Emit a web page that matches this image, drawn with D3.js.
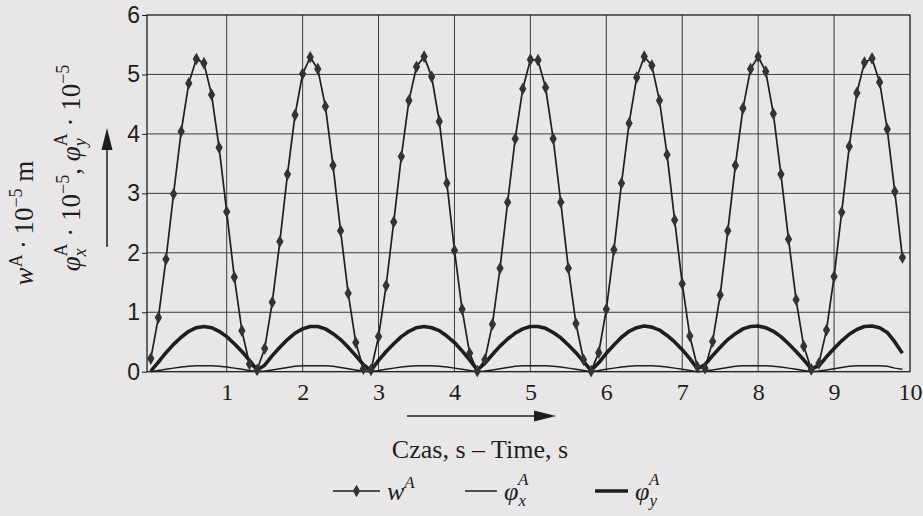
<!DOCTYPE html>
<html>
<head>
<meta charset="utf-8">
<title>Przemieszczenie i obroty punktu A w czasie</title>
<script src="https://d3js.org/d3.v7.min.js"></script>
<style>
body { margin: 0; background: #e8e6e7; }
svg { display: block; }
.grid line { stroke: #3c3c3c; stroke-width: 1; }
.yaxis text { font-family: "Liberation Sans", Arial, sans-serif; font-size: 23px; fill: #1e1e1e; }
.xaxis text { font-family: "Liberation Serif", "Times New Roman", serif; font-size: 24px; fill: #1e1e1e; }
.lab { font-family: "Liberation Serif", "Times New Roman", serif; font-size: 26px; fill: #1e1e1e; }
.ylab { font-family: "Liberation Serif", "Times New Roman", serif; font-size: 27px; fill: #1e1e1e; }
</style>
</head>
<body>
<svg width="923" height="516"></svg>
<script>

// sample times, every 0.1 s
var time = d3.range(100).map(function(i) { return i / 10; });

// w^A * 10^-5 m
var wA = [
  0.22, 0.91, 1.89, 2.99, 4.04, 4.85, 5.26, 5.19, 4.66, 3.77,
  2.69, 1.59, 0.69, 0.13, 0.03, 0.39, 1.17, 2.19, 3.32, 4.32,
  5.01, 5.29, 5.09, 4.46, 3.47, 2.37, 1.32, 0.49, 0.05, 0.03,
  0.59, 1.45, 2.52, 3.62, 4.56, 5.13, 5.30, 4.96, 4.21, 3.17,
  2.04, 1.05, 0.31, 0.01, 0.20, 0.80, 1.74, 2.85, 3.92, 4.76,
  5.25, 5.24, 4.78, 3.92, 2.85, 1.74, 0.81, 0.20, 0.01, 0.32,
  1.05, 2.05, 3.17, 4.18, 4.95, 5.30, 5.15, 4.56, 3.65, 2.55,
  1.48, 0.60, 0.08, 0.06, 0.51, 1.29, 2.37, 3.47, 4.43, 5.09,
  5.30, 5.05, 4.34, 3.32, 2.23, 1.21, 0.43, 0.04, 0.14, 0.70,
  1.60, 2.68, 3.79, 4.69, 5.20, 5.27, 4.87, 4.08, 3.03, 1.92
];

// phi_x^A * 10^-5
var phiX = [
  0.00, 0.02, 0.04, 0.06, 0.08, 0.09, 0.10, 0.10, 0.10, 0.09,
  0.08, 0.06, 0.04, 0.02, 0.00, 0.01, 0.03, 0.05, 0.07, 0.09,
  0.10, 0.10, 0.10, 0.10, 0.09, 0.07, 0.05, 0.03, 0.01, 0.00,
  0.02, 0.04, 0.06, 0.08, 0.09, 0.10, 0.10, 0.10, 0.09, 0.08,
  0.06, 0.04, 0.02, 0.00, 0.01, 0.03, 0.05, 0.07, 0.09, 0.10,
  0.10, 0.10, 0.10, 0.09, 0.08, 0.06, 0.04, 0.02, 0.00, 0.02,
  0.04, 0.06, 0.08, 0.09, 0.10, 0.10, 0.10, 0.09, 0.08, 0.06,
  0.04, 0.02, 0.00, 0.01, 0.03, 0.05, 0.07, 0.09, 0.10, 0.10,
  0.10, 0.10, 0.09, 0.08, 0.06, 0.04, 0.02, 0.00, 0.01, 0.03,
  0.05, 0.07, 0.09, 0.10, 0.10, 0.10, 0.10, 0.09, 0.06, 0.04
];

// phi_y^A * 10^-5
var phiY = [
  0.01, 0.16, 0.32, 0.46, 0.58, 0.68, 0.74, 0.76, 0.74, 0.68,
  0.59, 0.47, 0.34, 0.19, 0.03, 0.11, 0.27, 0.41, 0.54, 0.65,
  0.72, 0.76, 0.76, 0.72, 0.64, 0.54, 0.41, 0.27, 0.12, 0.02,
  0.19, 0.34, 0.47, 0.59, 0.68, 0.74, 0.76, 0.74, 0.69, 0.60,
  0.49, 0.35, 0.20, 0.03, 0.14, 0.29, 0.43, 0.55, 0.65, 0.72,
  0.76, 0.76, 0.73, 0.66, 0.57, 0.45, 0.32, 0.17, 0.02, 0.15,
  0.31, 0.45, 0.58, 0.68, 0.74, 0.77, 0.75, 0.70, 0.61, 0.50,
  0.37, 0.22, 0.05, 0.12, 0.27, 0.41, 0.54, 0.64, 0.72, 0.76,
  0.77, 0.74, 0.68, 0.59, 0.47, 0.34, 0.20, 0.05, 0.10, 0.25,
  0.39, 0.52, 0.63, 0.71, 0.76, 0.77, 0.74, 0.66, 0.50, 0.31
];

var xTicks = [1, 2, 3, 4, 5, 6, 7, 8, 9, 10];
var yTicks = [0, 1, 2, 3, 4, 5, 6];

var svg = d3.select("svg");

var x = d3.scaleLinear().domain([-0.05, 10]).range([147, 910]);
var y = d3.scaleLinear().domain([0, 6]).range([371.7, 15]);

var ink = "#1e1e1e";

// grid
var grid = svg.append("g").attr("class", "grid");
grid.selectAll(".h")
  .data(yTicks.slice(1, -1))
  .enter().append("line")
    .attr("x1", x.range()[0]).attr("x2", x.range()[1])
    .attr("y1", function(d) { return y(d); })
    .attr("y2", function(d) { return y(d); });
grid.selectAll(".v")
  .data(xTicks.slice(0, -1))
  .enter().append("line")
    .attr("x1", function(d) { return x(d); })
    .attr("x2", function(d) { return x(d); })
    .attr("y1", y(0)).attr("y2", y(6));

// frame
svg.append("rect")
    .attr("x", x.range()[0]).attr("y", y(6))
    .attr("width", x.range()[1] - x.range()[0])
    .attr("height", y(0) - y(6))
    .attr("fill", "none")
    .attr("stroke", ink)
    .attr("stroke-width", 1.3);

// axes
svg.append("g")
    .attr("class", "yaxis")
    .attr("transform", "translate(" + x.range()[0] + ",0)")
    .call(d3.axisLeft(y).tickValues(yTicks).tickSize(5).tickPadding(2).tickFormat(d3.format("d")))
    .call(function(g) { g.select(".domain").remove(); })
    .call(function(g) { g.selectAll("line").attr("stroke", ink); });

svg.append("g")
    .attr("class", "xaxis")
    .attr("transform", "translate(0," + y(0) + ")")
    .call(d3.axisBottom(x).tickValues(xTicks).tickSize(0).tickPadding(11).tickFormat(d3.format("d")))
    .call(function(g) { g.select(".domain").remove(); });

// series
var pts = time.map(function(t, i) { return { t: t, w: wA[i], px: phiX[i], py: phiY[i] }; });

function lineFor(key) {
  return d3.line()
    .x(function(d) { return x(d.t); })
    .y(function(d) { return y(d[key]); });
}

svg.append("path")
    .datum(pts)
    .attr("d", lineFor("px"))
    .attr("fill", "none")
    .attr("stroke", ink)
    .attr("stroke-width", 1.5);

svg.append("path")
    .datum(pts)
    .attr("d", lineFor("py"))
    .attr("fill", "none")
    .attr("stroke", ink)
    .attr("stroke-width", 3.6)
    .attr("stroke-linejoin", "round");

svg.append("path")
    .datum(pts)
    .attr("d", lineFor("w"))
    .attr("fill", "none")
    .attr("stroke", ink)
    .attr("stroke-width", 1.7);

var diamond = d3.symbol().type(d3.symbolDiamond).size(46);
svg.append("g")
  .selectAll("path")
  .data(pts)
  .enter().append("path")
    .attr("d", diamond)
    .attr("transform", function(d) { return "translate(" + x(d.t) + "," + y(d.w) + ")"; })
    .attr("fill", "#333");

// y axis title (two rotated lines) and arrow
var thin = "\u2009";
var yl1 = svg.append("text")
    .attr("class", "ylab")
    .attr("text-anchor", "middle")
    .attr("transform", "translate(33,223) rotate(-90)");
yl1.append("tspan").attr("font-style", "italic").text("w");
yl1.append("tspan").attr("font-size", 18).attr("dy", -11).text("A");
yl1.append("tspan").attr("dy", 11).text(thin + "·" + thin + "10");
yl1.append("tspan").attr("font-size", 18).attr("dy", -11).text("−5");
yl1.append("tspan").attr("dy", 11).text(" m");

var yl2 = svg.append("text")
    .attr("class", "ylab")
    .attr("text-anchor", "middle")
    .attr("transform", "translate(80,168) rotate(-90)");
function phiPart(sel, sub) {
  sel.append("tspan").attr("font-style", "italic").text("φ");
  sel.append("tspan").attr("font-style", "italic").attr("font-size", 18).attr("dy", 6).text(sub);
  sel.append("tspan").attr("font-size", 18).attr("dx", -8).attr("dy", -19).text("A");
  sel.append("tspan").attr("dy", 13).text(" · 10");
  sel.append("tspan").attr("font-size", 18).attr("dy", -11).text("−5");
}
phiPart(yl2, "x");
yl2.append("tspan").attr("dy", 11).text(", ");
phiPart(yl2, "y");

svg.append("line")
    .attr("x1", 107).attr("x2", 107)
    .attr("y1", 247).attr("y2", 148)
    .attr("stroke", ink).attr("stroke-width", 1.5);
svg.append("path")
    .attr("d", "M107,128 L101.5,150 L112.5,150 Z")
    .attr("fill", ink);

// x axis title and arrow
svg.append("line")
    .attr("x1", 407).attr("x2", 540)
    .attr("y1", 416).attr("y2", 416)
    .attr("stroke", ink).attr("stroke-width", 1.5);
svg.append("path")
    .attr("d", "M556,416 L534,410.5 L534,421.5 Z")
    .attr("fill", ink);

svg.append("text")
    .attr("class", "lab")
    .attr("x", 480).attr("y", 458)
    .attr("text-anchor", "middle")
    .text("Czas, s – Time, s");

// legend
var legend = [
  { key: "w", x1: 333, x2: 380, width: 1.7, marker: true, sym: "w", sub: null },
  { key: "px", x1: 465, x2: 497, width: 1.5, marker: false, sym: "φ", sub: "x" },
  { key: "py", x1: 595, x2: 628, width: 3.6, marker: false, sym: "φ", sub: "y" }
];
var lg = svg.append("g");
legend.forEach(function(d) {
  lg.append("line")
      .attr("x1", d.x1).attr("x2", d.x2)
      .attr("y1", 491).attr("y2", 491)
      .attr("stroke", ink).attr("stroke-width", d.width);
  if (d.marker) {
    lg.append("path")
        .attr("d", diamond)
        .attr("transform", "translate(" + (d.x1 + d.x2) / 2 + ",491)")
        .attr("fill", "#333");
  }
  var t = lg.append("text")
      .attr("class", "lab")
      .attr("x", d.x2 + 7).attr("y", 500)
      .attr("font-style", "italic");
  t.append("tspan").text(d.sym);
  if (d.sub) {
    t.append("tspan").attr("font-size", 17).attr("dy", 6).text(d.sub);
    t.append("tspan").attr("font-size", 17).attr("dx", -8).attr("dy", -21).text("A");
  } else {
    t.append("tspan").attr("font-size", 17).attr("dy", -12).text("A");
  }
});

</script>
</body>
</html>
